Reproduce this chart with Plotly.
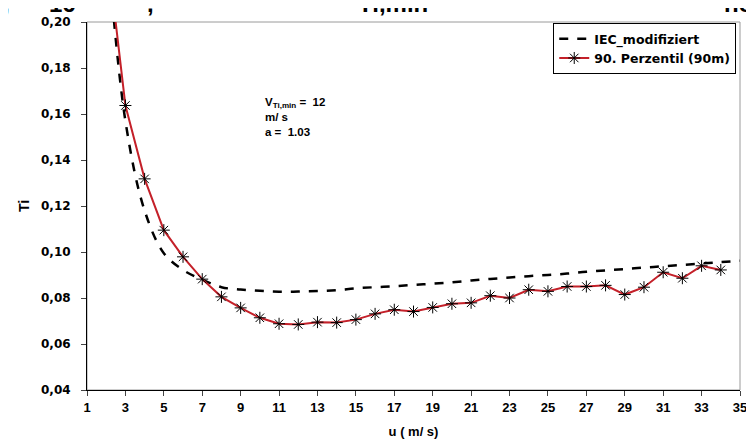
import plotly.graph_objects as go

# IEC_modifiziert (gestrichelte Kurve)
u_iec = list(range(2, 36))
ti_iec = [0.240, 0.157, 0.118, 0.0995, 0.0922, 0.0880, 0.0847, 0.0837, 0.0831, 0.0827,
          0.0828, 0.0830, 0.0834, 0.0842, 0.0847, 0.0851, 0.0857, 0.0862, 0.0868, 0.0876,
          0.0883, 0.0889, 0.0895, 0.0900, 0.0906, 0.0914, 0.0920, 0.0926, 0.0932, 0.0938,
          0.0944, 0.0950, 0.0956, 0.0962]

# 90. Perzentil (90m)
u_p90 = list(range(2, 35))
ti_p90 = [0.235, 0.1637, 0.1318, 0.1095, 0.0979, 0.0882, 0.0805, 0.0757, 0.0714, 0.0688,
          0.0685, 0.0695, 0.0693, 0.0706, 0.0731, 0.0749, 0.0741, 0.0759, 0.0775, 0.0779,
          0.0810, 0.0800, 0.0836, 0.0829, 0.0850, 0.0850, 0.0855, 0.0815, 0.0847, 0.0912,
          0.0886, 0.0940, 0.0922]

x_ticks = list(range(1, 36, 2))

font = "Liberation Sans"
wide = "DejaVu Sans"

fig = go.Figure()
fig.add_trace(go.Scatter(x=u_iec, y=ti_iec, mode="lines", name="IEC_modifiziert",
                         line=dict(color="black", width=2.5, dash="dash", shape="spline")))
fig.add_trace(go.Scatter(x=u_p90, y=ti_p90, mode="lines+markers", name="90. Perzentil (90m)",
                         line=dict(color="#c42029", width=2),
                         marker=dict(symbol="asterisk-open", size=10, color="black",
                                     line=dict(color="black", width=1))))

# Seite hat 8px Rand, daher Figur etwas kleiner
fig.update_layout(
    width=746, height=438,
    margin=dict(l=79, r=7, t=9, b=56),
    paper_bgcolor="white", plot_bgcolor="white",
    separators=",.",
    font=dict(family=font, size=12, color="black", weight="bold"),
    showlegend=True,
    legend=dict(x=0.714, y=0.997, xanchor="left", yanchor="top",
                bordercolor="black", borderwidth=1, bgcolor="white",
                font=dict(family=wide, size=12.5, weight="bold"),
                itemwidth=30, tracegroupgap=0),
)

fig.update_xaxes(range=[1, 35], tickvals=x_ticks, ticks="outside", ticklen=5,
                 ticklabeloverflow="allow",
                 showline=True, linecolor="black", linewidth=1, showgrid=False, zeroline=False,
                 tickfont=dict(family=font, size=13, weight="bold"),
                 title=dict(text="u ( m/ s)", font=dict(family=font, size=13, weight="bold"), standoff=13))
fig.update_yaxes(range=[0.04, 0.20], dtick=0.02, tickformat=".2f", ticks="outside", ticklen=5,
                 ticklabelstandoff=8,
                 showline=True, linecolor="black", linewidth=1, showgrid=False, zeroline=False,
                 tickfont=dict(family=wide, size=12, weight="bold"),
                 title=dict(text="Ti", font=dict(family=font, size=14, weight="bold"), standoff=8))

# grauer Rahmen der Zeichnungsfläche
fig.add_shape(type="rect", xref="paper", yref="paper", x0=0, y0=0, x1=1, y1=1,
              line=dict(color="#9a9a9a", width=1), layer="below")

# Textfeld
fig.add_annotation(x=10.15, y=0.1688, xref="x", yref="y", xanchor="left", yanchor="top",
                   align="left", showarrow=False,
                   text="V<sub>Ti,min</sub> =  12<br>m/ s<br>a =  1.03",
                   font=dict(family=font, size=11.5, weight="bold"))

# abgeschnittene Titelzeile oben
for txt, xp in [(",", -0.123), ("16", -0.038), (",", 0.098), ("Ti,min", 0.468), ("ne", 0.997)]:
    fig.add_annotation(x=xp, y=1.049, xref="paper", yref="paper", xanchor="center",
                       yanchor="middle", showarrow=False, text=txt,
                       font=dict(family=font, size=24, weight="bold"))

fig.write_html("out.html")
